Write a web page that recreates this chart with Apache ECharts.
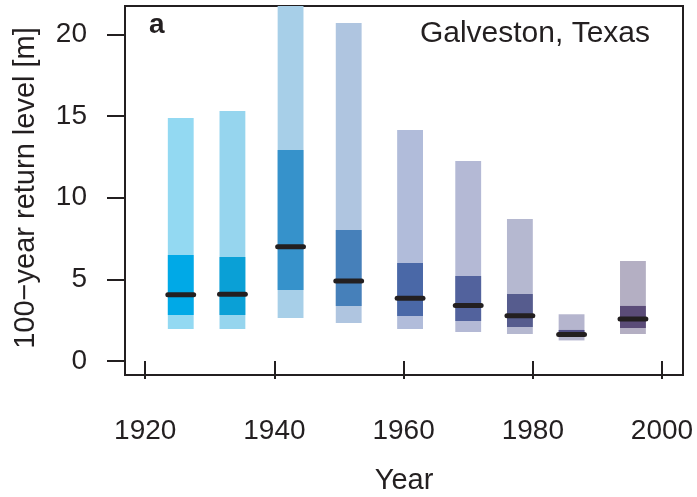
<!DOCTYPE html>
<html>
<head>
<meta charset="utf-8">
<script src="https://cdn.jsdelivr.net/npm/echarts@6/dist/echarts.min.js"></script>
<style>html,body{margin:0;padding:0;background:#fff;}#c{width:697px;height:497px;}</style>
</head>
<body>
<div id="c"></div>
<script>
// ---- data ----
const years   = [1925.5, 1933.5, 1942.5, 1951.5, 1961, 1970, 1978, 1986, 1995.5];
const lower95 = [1.96, 1.96, 2.63, 2.33, 1.96, 1.77, 1.65, 1.26, 1.65];
const lower50 = [2.82, 2.82, 4.35, 3.37, 2.75, 2.45, 2.08, 1.50, 2.02];
const median  = [4.06, 4.08, 7.00, 4.90, 3.84, 3.39, 2.77, 1.62, 2.57];
const upper50 = [6.49, 6.36, 12.91, 8.02, 6.00, 5.20, 4.10, 1.90, 3.37];
const upper95 = [14.87, 15.30, 22.50, 20.69, 14.14, 12.24, 8.69, 2.86, 6.12];
const xTicks  = [1920, 1940, 1960, 1980, 2000];
const yTicks  = [0, 5, 10, 15, 20];

// ---- styles ----
const lightColors = ['#93D9F2','#96D5EE','#A7CFE8','#AFC5E0','#B1BCDA','#B4B9D5','#B5B8D0','#B5B5CE','#B4AFC3'];
const darkColors  = ['#00A9E7','#0AA0D6','#3692CB','#4680BA','#4A68A7','#52629D','#565C8E','#4E4C83','#5B4C78'];
const HALF = 2.0; // half bar width in years
const INK = '#231F20';
const FONT = '"Liberation Sans", Arial, Helvetica, sans-serif';

const seriesData = years.map((y, i) => [y, lower95[i], lower50[i], median[i], upper50[i], upper95[i]]);

function clipRect(r, cs) {
  const x1 = Math.max(r.x, cs.x), y1 = Math.max(r.y, cs.y);
  const x2 = Math.min(r.x + r.width, cs.x + cs.width), y2 = Math.min(r.y + r.height, cs.y + cs.height);
  return {x: x1, y: y1, width: Math.max(0, x2 - x1), height: Math.max(0, y2 - y1)};
}

function renderItem(params, api) {
  const i = params.dataIndex;
  const x = api.value(0);
  const cs = params.coordSys;
  const a = api.coord([x - HALF, api.value(5)]);
  const b = api.coord([x + HALF, api.value(1)]);
  const c = api.coord([x - HALF, api.value(4)]);
  const d = api.coord([x + HALF, api.value(2)]);
  const m1 = api.coord([x - HALF, api.value(3)]);
  const m2 = api.coord([x + HALF, api.value(3)]);
  const outer = clipRect({x: a[0], y: a[1], width: b[0] - a[0], height: b[1] - a[1]}, cs);
  const inner = clipRect({x: c[0], y: c[1], width: d[0] - c[0], height: d[1] - c[1]}, cs);
  return {
    type: 'group',
    children: [
      {type: 'rect', shape: outer, style: {fill: lightColors[i]}},
      {type: 'rect', shape: inner, style: {fill: darkColors[i]}},
      {type: 'line', shape: {x1: m1[0], y1: m1[1], x2: m2[0], y2: m2[1]},
       style: {stroke: INK, lineWidth: 5, lineCap: 'round'}}
    ]
  };
}

const chart = echarts.init(document.getElementById('c'), null, {renderer: 'canvas'});
chart.setOption({
  animation: false,
  backgroundColor: '#ffffff',
  grid: {left: 125, top: 6, width: 558, height: 369, show: true,
         borderColor: INK, borderWidth: 2, backgroundColor: 'transparent'},
  xAxis: {
    type: 'value', min: 1916.87, max: 2003.25,
    axisLine: {show: false},
    splitLine: {show: false},
    axisTick: {show: true, customValues: xTicks, length: 18, lineStyle: {color: INK, width: 2}},
    axisLabel: {customValues: xTicks, fontSize: 28, fontFamily: FONT, color: INK,
                margin: 56, verticalAlign: 'middle', formatter: v => String(v)}
  },
  yAxis: {
    type: 'value', min: -0.857, max: 21.73,
    axisLine: {show: false},
    splitLine: {show: false},
    axisTick: {show: true, customValues: yTicks, length: 18, lineStyle: {color: INK, width: 2}},
    axisLabel: {customValues: yTicks, fontSize: 28, fontFamily: FONT, color: INK, margin: 38,
                formatter: v => String(v)}
  },
  series: [{
    type: 'custom',
    renderItem: renderItem,
    data: seriesData,
    encode: {x: 0, y: [1, 5]}
  }],
  graphic: [
    {type: 'text', x: 149, y: 25, style: {text: 'a', font: 'bold 28px ' + FONT, fill: INK,
      align: 'left', verticalAlign: 'middle'}},
    {type: 'text', x: 650, y: 34, style: {text: 'Galveston, Texas', font: '30px ' + FONT, fill: INK,
      align: 'right', verticalAlign: 'middle'}},
    {type: 'text', x: 404, y: 481, style: {text: 'Year', font: '29px ' + FONT, fill: INK,
      align: 'center', verticalAlign: 'middle'}},
    {type: 'text', x: 26, y: 188, rotation: Math.PI / 2,
      style: {text: '100\u2212year return level [m]', font: '29px ' + FONT, fill: INK,
      align: 'center', verticalAlign: 'middle'}}
  ]
});
</script>
</body>
</html>
